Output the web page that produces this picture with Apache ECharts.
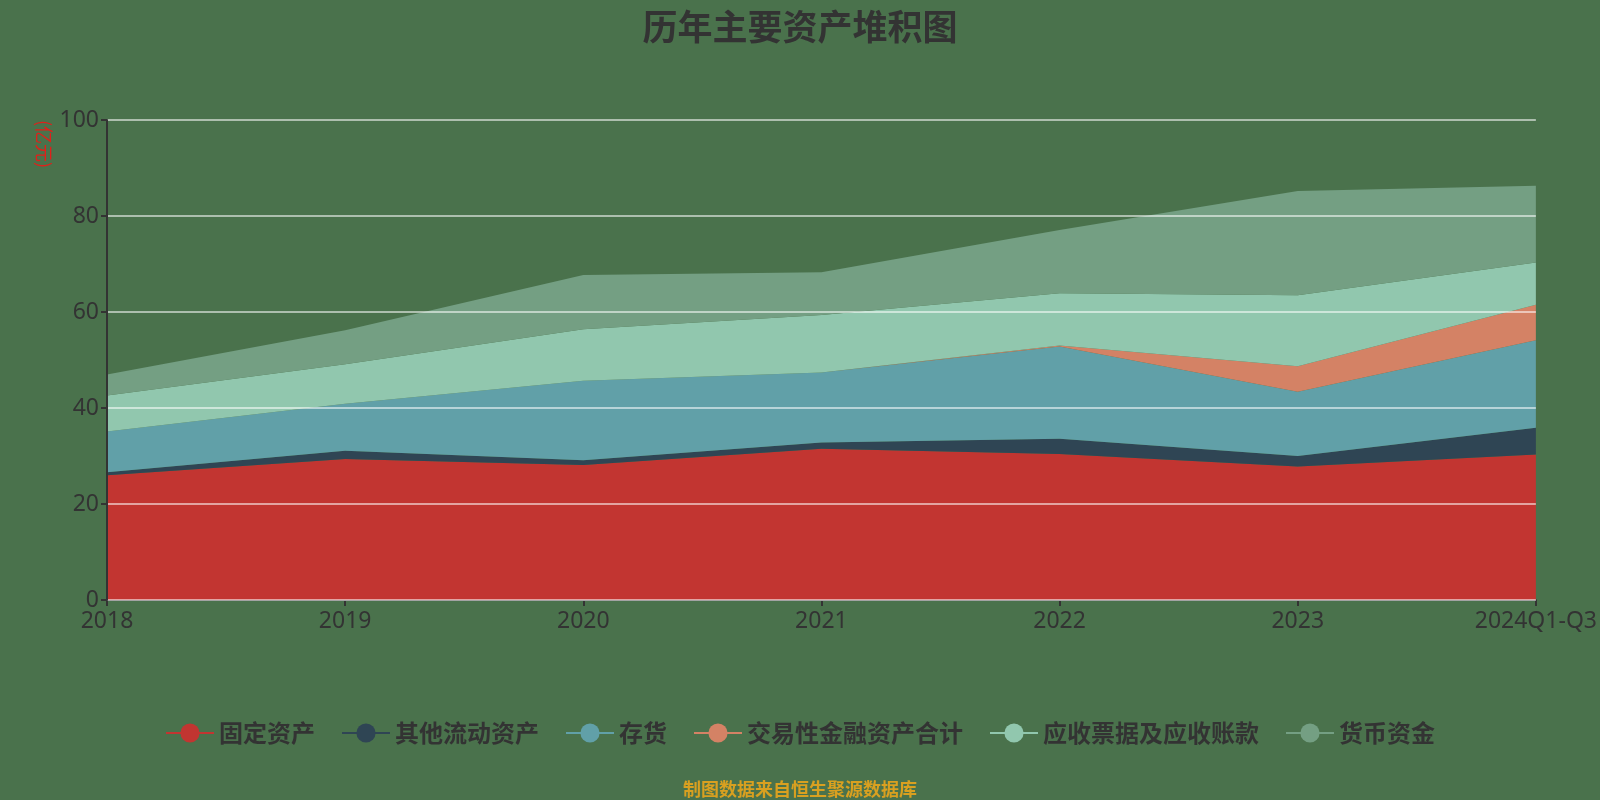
<!DOCTYPE html>
<html><head><meta charset="utf-8">
<script src="https://cdn.jsdelivr.net/npm/echarts@6/dist/echarts.min.js"></script>
<style>html,body{margin:0;padding:0;background:#4a724c;}#c{width:1600px;height:800px;}</style>
</head><body><div id="c"></div>
<script>
const categories = ['2018','2019','2020','2021','2022','2023','2024Q1-Q3'];
const fixedAssets = [26.0, 29.4, 28.1, 31.5, 30.4, 27.8, 30.3];
const otherCurrent = [0.6, 1.7, 1.0, 1.3, 3.2, 2.2, 5.6];
const inventory = [8.5, 9.8, 16.6, 14.6, 19.2, 13.4, 18.2];
const tradingFin = [0, 0, 0, 0, 0.2, 5.3, 7.4];
const receivables = [7.5, 8.2, 10.7, 12.0, 10.9, 14.8, 8.8];
const cash = [4.4, 7.1, 11.3, 8.9, 13.2, 21.7, 16.0];
const yTicks = [0, 20, 40, 60, 80, 100];

const names = ['固定资产','其他流动资产','存货','交易性金融资产合计','应收票据及应收账款','货币资金'];
const datas = [fixedAssets, otherCurrent, inventory, tradingFin, receivables, cash];
const colors = ['#c23531','#2f4554','#61a0a8','#d48265','#91c7ae','#749f83'];

const chart = echarts.init(document.getElementById('c'));
chart.setOption({
  backgroundColor: '#4a724c',
  color: colors,
  title: {
    text: '历年主要资产堆积图', left: 'center', top: 4,
    textStyle: {fontSize: 35, fontWeight: 'bold', color: '#333', fontFamily: 'Noto Sans CJK SC'}
  },
  legend: {
    bottom: 50, left: 'center', itemWidth: 48, itemHeight: 24, itemGap: 26,
    lineStyle: {width: 2},
    textStyle: {fontSize: 24, fontWeight: 'bold', color: '#333', fontFamily: 'Noto Sans CJK SC'},
    data: names
  },
  graphic: [
    {type: 'text', left: 'center', top: 780,
     style: {text: '制图数据来自恒生聚源数据库', fill: '#d9a020', font: 'bold 18px "Noto Sans CJK SC"'}},
    {type: 'text', x: 53, y: 120, rotation: -Math.PI/2,
     style: {text: '(亿元)', fill: '#e0201a', font: '18px "Noto Sans CJK SC"'}}
  ],
  grid: {left: 107, right: 64, top: 120, bottom: 200},
  xAxis: {
    type: 'category', data: categories, boundaryGap: false,
    axisLine: {lineStyle: {color: '#333', width: 2}},
    axisTick: {show: true, length: 6, lineStyle: {color: '#333', width: 2}},
    axisLabel: {fontSize: 23, color: '#333', margin: 10, fontFamily: 'Noto Sans', interval: 0}
  },
  yAxis: {
    type: 'value', min: 0, max: 100, interval: 20, z: 5,
    axisLine: {show: true, lineStyle: {color: '#333', width: 2}},
    axisTick: {show: true, length: 6, lineStyle: {color: '#333', width: 2}},
    axisLabel: {fontSize: 23, color: '#333', fontFamily: 'Noto Sans', margin: 8,
      formatter: v => yTicks.includes(v) ? String(v) : ''},
    splitLine: {lineStyle: {color: 'rgba(255,255,255,0.55)', width: 2}}
  },
  series: names.map((n, i) => ({
    name: n, type: 'line', stack: 'total', data: datas[i], z: 2,
    symbol: 'circle', symbolSize: 24, showSymbol: false,
    lineStyle: {width: 0},
    areaStyle: {opacity: 1, color: colors[i]},
    itemStyle: {color: colors[i]}
  }))
});
</script></body></html>
